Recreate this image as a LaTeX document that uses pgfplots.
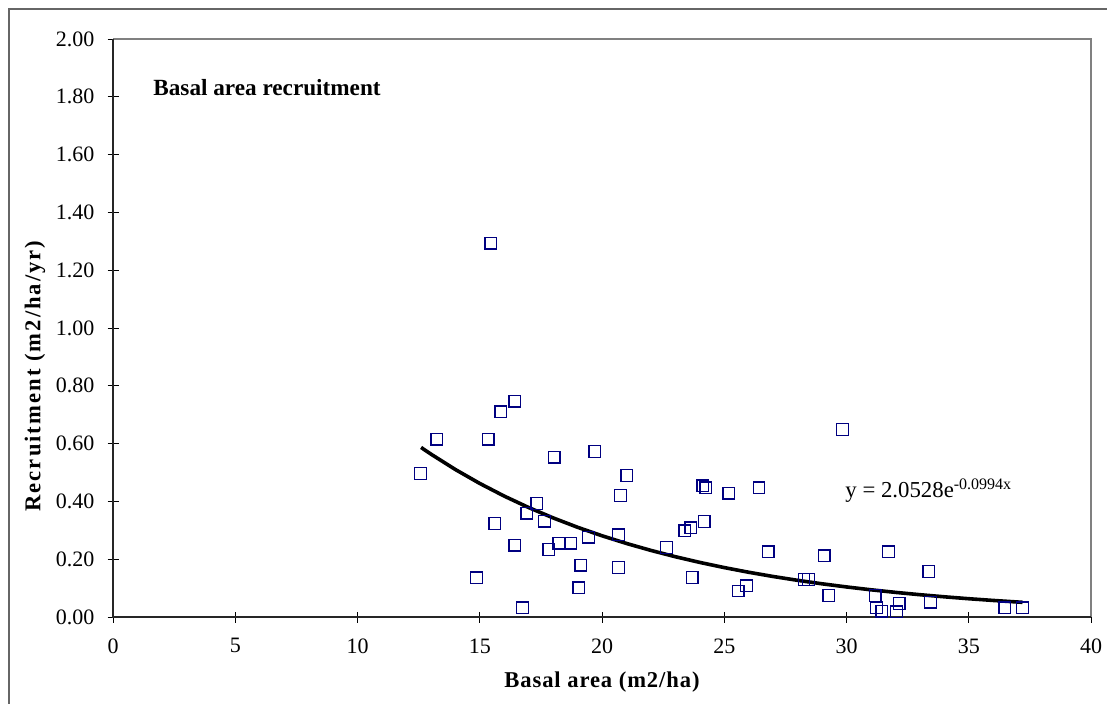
\documentclass[border=0pt]{standalone}
\usepackage{fontspec}
\setmainfont{Liberation Serif}
\newfontfamily\spacedY[LetterSpace=9]{Liberation Serif}
\newfontfamily\spacedX[LetterSpace=4]{Liberation Serif}
\usepackage{pgfplots}
\pgfplotsset{compat=1.18}
\definecolor{navy}{RGB}{0,0,128}
\pgfplotstableread{
x y
12.58 0.497
13.24 0.615
14.87 0.136
15.35 0.615
15.45 1.293
15.61 0.324
15.86 0.710
16.43 0.747
16.43 0.248
16.75 0.032
16.92 0.359
17.33 0.393
17.65 0.331
17.82 0.234
18.05 0.553
18.23 0.255
18.72 0.255
19.05 0.101
19.13 0.179
19.45 0.276
19.70 0.573
20.67 0.284
20.67 0.171
20.76 0.420
21.01 0.490
22.64 0.240
23.39 0.298
23.63 0.309
23.69 0.137
24.12 0.454
24.18 0.330
24.25 0.447
25.19 0.428
25.57 0.090
25.91 0.108
26.42 0.447
26.80 0.226
28.26 0.130
28.44 0.130
29.09 0.212
29.28 0.074
29.84 0.649
31.17 0.074
31.23 0.032
31.44 0.020
31.72 0.226
32.05 0.018
32.15 0.047
33.37 0.157
33.44 0.051
36.48 0.032
37.20 0.032
}\pts
\pgfplotstableread{
x y
12.6 0.5867
13 0.5638
14 0.5105
15 0.46215
16 0.41842
17 0.37882
18 0.34297
19 0.31052
20 0.28113
21 0.25453
22 0.23044
23 0.20863
24 0.18889
25 0.17102
26 0.15483
27 0.14018
28 0.12691
29 0.11490
30 0.10403
31 0.09418
32 0.08527
33 0.07720
34 0.06990
35 0.06328
36 0.05729
37 0.05187
37.2 0.05085
}\trend
\begin{document}
\begin{tikzpicture}
\path[use as bounding box] (0,0) rectangle (553.5pt,351.5pt);
\draw[black!60, line width=0.75pt] (4.5pt,-1pt) -- (4.5pt,347pt) -- (555pt,347pt);
\begin{axis}[
  at={(56.5pt,43pt)}, anchor=south west,
  scale only axis, width=489pt, height=289pt,
  xmin=0, xmax=40, ymin=0, ymax=2,
  xtick={0,5,10,15,20,25,30,35,40},
  ytick={0,0.2,0.4,0.6,0.8,1,1.2,1.4,1.6,1.8,2},
  yticklabel={\pgfmathprintnumber[fixed,fixed zerofill,precision=2]{\tick}},
  /pgf/number format/assume math mode=true,
  ticklabel style={font=\fontsize{11}{13}\selectfont},
  yticklabel style={xshift=-3pt},
  xticklabel style={yshift=-4.5pt},
  tick align=center, major tick length=5.5pt, tick pos=left,
  tick style={black, line width=0.5pt},
  axis line style={draw=none},
  clip=false,
]
\draw[gray, line width=0.75pt] (rel axis cs:0,1) -- (rel axis cs:1,1) -- (rel axis cs:1,0);
\draw[black!85, line width=0.8pt] (rel axis cs:0,1) -- (rel axis cs:0,0) -- (rel axis cs:1,0);
\addplot[only marks, mark=square, mark size=2.9pt, mark options={draw=navy, line width=0.65pt}] table[x=x,y=y] {\pts};
\addplot[black, line width=1.8pt, no marks] table[x=x,y=y] {\trend};
\node[anchor=base west, inner sep=0pt, font=\bfseries\fontsize{11.6}{13}\selectfont] at (axis cs:1.636,1.806) {Basal area recruitment};
\node[anchor=base west, inner sep=0pt, font=\fontsize{11.4}{13}\selectfont] at (axis cs:29.94,0.412) {y = 2.0528e\textsuperscript{\fontsize{8}{9}\selectfont-0.0994x}};
\end{axis}
\node[anchor=base, inner sep=0pt, font=\spacedX\bfseries\fontsize{11.3}{13}\selectfont] at (301pt,8pt) {Basal area (m2/ha)};
\node[rotate=90, inner sep=0pt, font=\spacedY\bfseries\fontsize{11.3}{13}\selectfont] at (17.5pt,163.5pt) {Recruitment (m2/ha/yr)};
\end{tikzpicture}
\end{document}
